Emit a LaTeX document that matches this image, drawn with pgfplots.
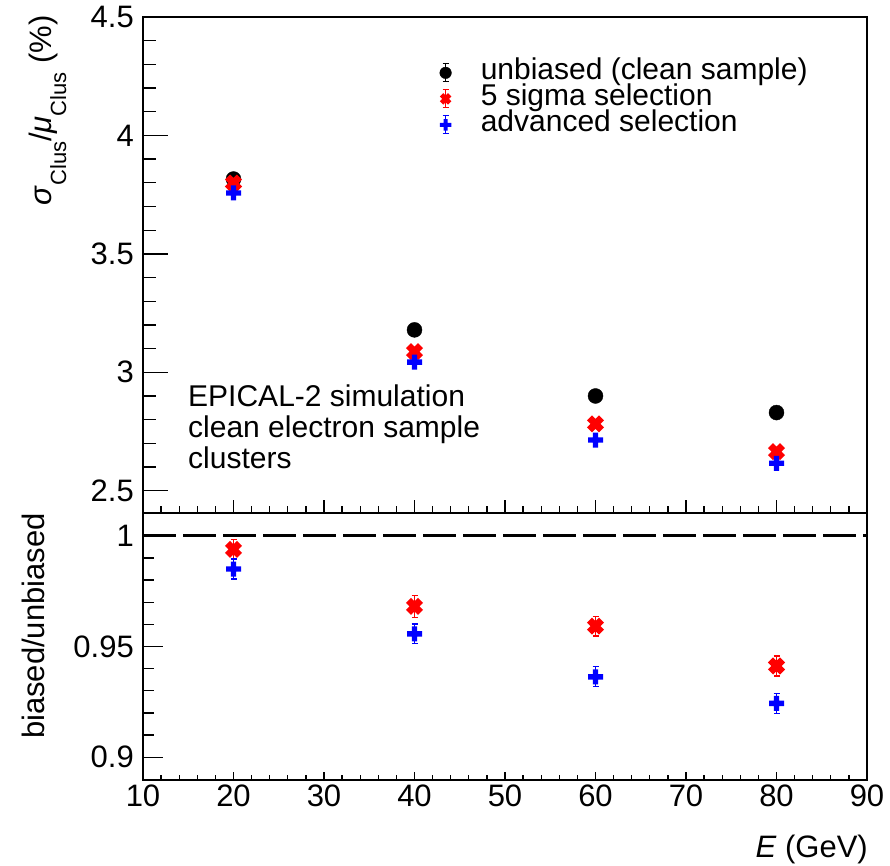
\documentclass[border=0pt]{standalone}
\usepackage{pgfplots}
\pgfplotsset{compat=1.18}
\usepackage{fontspec}
\setmainfont{Liberation Sans}
\setsansfont{Liberation Sans}
\definecolor{rred}{RGB}{255,0,0}
\definecolor{rblue}{RGB}{0,0,255}
\newcommand{\FS}[1]{\fontsize{#1bp}{#1bp}\selectfont}

\pgfdeclareplotmark{fplus}{%
  \pgfmathsetlengthmacro\mkS{\pgfplotmarksize}%
  \pgfmathsetlengthmacro\mkT{0.36*\pgfplotmarksize}%
  \pgfpathmoveto{\pgfpoint{\mkT}{\mkS}}%
  \pgfpathlineto{\pgfpoint{\mkT}{\mkT}}%
  \pgfpathlineto{\pgfpoint{\mkS}{\mkT}}%
  \pgfpathlineto{\pgfpoint{\mkS}{-\mkT}}%
  \pgfpathlineto{\pgfpoint{\mkT}{-\mkT}}%
  \pgfpathlineto{\pgfpoint{\mkT}{-\mkS}}%
  \pgfpathlineto{\pgfpoint{-\mkT}{-\mkS}}%
  \pgfpathlineto{\pgfpoint{-\mkT}{-\mkT}}%
  \pgfpathlineto{\pgfpoint{-\mkS}{-\mkT}}%
  \pgfpathlineto{\pgfpoint{-\mkS}{\mkT}}%
  \pgfpathlineto{\pgfpoint{-\mkT}{\mkT}}%
  \pgfpathlineto{\pgfpoint{-\mkT}{\mkS}}%
  \pgfpathclose
  \pgfusepathqfill}
\pgfdeclareplotmark{fx}{%
  \pgfscope
  \pgftransformrotate{45}%
  \pgfmathsetlengthmacro\mkS{\pgfplotmarksize}%
  \pgfmathsetlengthmacro\mkT{0.42*\pgfplotmarksize}%
  \pgfpathmoveto{\pgfpoint{\mkT}{\mkS}}%
  \pgfpathlineto{\pgfpoint{\mkT}{\mkT}}%
  \pgfpathlineto{\pgfpoint{\mkS}{\mkT}}%
  \pgfpathlineto{\pgfpoint{\mkS}{-\mkT}}%
  \pgfpathlineto{\pgfpoint{\mkT}{-\mkT}}%
  \pgfpathlineto{\pgfpoint{\mkT}{-\mkS}}%
  \pgfpathlineto{\pgfpoint{-\mkT}{-\mkS}}%
  \pgfpathlineto{\pgfpoint{-\mkT}{-\mkT}}%
  \pgfpathlineto{\pgfpoint{-\mkS}{-\mkT}}%
  \pgfpathlineto{\pgfpoint{-\mkS}{\mkT}}%
  \pgfpathlineto{\pgfpoint{-\mkT}{\mkT}}%
  \pgfpathlineto{\pgfpoint{-\mkT}{\mkS}}%
  \pgfpathclose
  \pgfusepathqfill
  \endpgfscope}

\pgfplotsset{
  rootax/.style={
    scale only axis, width=724bp,
    xmin=10, xmax=90, xtick={10,20,...,90}, minor x tick num=4, minor y tick num=4,
    xtick pos=bottom, ytick pos=left, tick align=inside,
    axis line style={line width=1.5bp},
    every tick/.style={line width=1.3bp, black},
    tick label style={font=\FS{31}},
    /pgf/number format/assume math mode=true,
    yticklabel style={inner sep=0pt, xshift=-9bp},
    xticklabel style={inner sep=0pt, yshift=-5bp},
  },
  pblack/.style={only marks, mark=*, mark size=7.5bp, black},
  pred/.style={only marks, mark=fx, mark size=8.5bp, rred},
  pblue/.style={only marks, mark=fplus, mark size=7.5bp, rblue},
}

\begin{document}
\begin{tikzpicture}
\useasboundingbox (0,0) rectangle (890bp,866bp);

\begin{axis}[rootax,
  height=496bp, at={(143bp,353bp)}, anchor=south west,
  ymin=2.406, ymax=4.5, ytick={2.5,3,3.5,4,4.5},
  xticklabels=\empty,
  xtick style={/pgfplots/major tick length=13bp, /pgfplots/minor tick length=7bp},
  ytick style={/pgfplots/major tick length=25bp, /pgfplots/minor tick length=12.7bp},
  ylabel={\FS{31}\textit{σ}\raisebox{-15bp}{\FS{22}Clus}/\textit{μ}\raisebox{-15bp}{\FS{22}Clus} (\%)},
  ylabel style={at={(axis description cs:-0.127,1.004)}, anchor=base east, inner sep=0pt},
  legend style={draw=none, fill=none, at={(axis description cs:0.4055,0.918)}, anchor=north west,
    font=\FS{30}, nodes={inner sep=0pt, text height=20bp, text depth=6bp}, row sep=0pt},
  legend cell align=left,
  legend image code/.code={\path (35bp,0bp);
    \draw[#1, line width=1.2bp, mark=none] (0bp,-9bp)--(0bp,9bp) (-3bp,9bp)--(3bp,9bp) (-3bp,-9bp)--(3bp,-9bp);
    \draw[#1, mark size=5.8bp] plot coordinates {(0bp,0bp)};},
]
\addplot[pblack] coordinates {(20,3.816) (40,3.179) (60,2.900) (80,2.830)};
\addlegendentry{unbiased (clean sample)}
\addplot[pred] coordinates {(20,3.799) (40,3.087) (60,2.782) (80,2.665)};
\addlegendentry{5 sigma selection}
\addplot[pblue] coordinates {(20,3.757) (40,3.043) (60,2.714) (80,2.616)};
\addlegendentry{advanced selection}
\node[anchor=base west, inner sep=0pt, font=\FS{30}] at (axis description cs:0.0622,0.2137) {EPICAL-2 simulation};
\node[anchor=base west, inner sep=0pt, font=\FS{30}] at (axis description cs:0.0622,0.1532) {clean electron sample};
\node[anchor=base west, inner sep=0pt, font=\FS{30}] at (axis description cs:0.0622,0.0907) {clusters};
\end{axis}

\begin{axis}[rootax,
  height=267bp, at={(143bp,86bp)}, anchor=south west,
  ymin=0.8897, ymax=1.0103, ytick={0.9,0.95,1},
  yticklabels={0.9,0.95,1},
  xtick style={/pgfplots/major tick length=8bp, /pgfplots/minor tick length=5bp},
  ytick style={/pgfplots/major tick length=20bp, /pgfplots/minor tick length=11bp},
  ylabel={\FS{31}biased/unbiased},
  ylabel style={at={(axis description cs:-0.1354,1.0)}, anchor=base east, inner sep=0pt},
  xlabel={\FS{31}\textit{E} (GeV)},
  xlabel style={at={(axis description cs:1.0014,-0.292)}, anchor=base east, inner sep=0pt},
]
\addplot[black, line width=3bp, dash pattern=on 33bp off 7bp] coordinates {(10,1) (90,1)};
\addplot[pred, error bars/.cd, y dir=both, y explicit, error bar style={line width=1.2bp, rred}, error mark options={rred, line width=1.2bp, mark size=3bp, rotate=90}]
  coordinates {(20,0.9939) +- (0,0.0045) (40,0.9681) +- (0,0.005) (60,0.9592) +- (0,0.0045) (80,0.9412) +- (0,0.0045)};
\addplot[pblue, error bars/.cd, y dir=both, y explicit, error bar style={line width=1.2bp, rblue}, error mark options={rblue, line width=1.2bp, mark size=3bp, rotate=90}]
  coordinates {(20,0.9850) +- (0,0.0045) (40,0.9557) +- (0,0.0045) (60,0.9363) +- (0,0.0045) (80,0.9243) +- (0,0.0045)};
\end{axis}
\end{tikzpicture}
\end{document}
